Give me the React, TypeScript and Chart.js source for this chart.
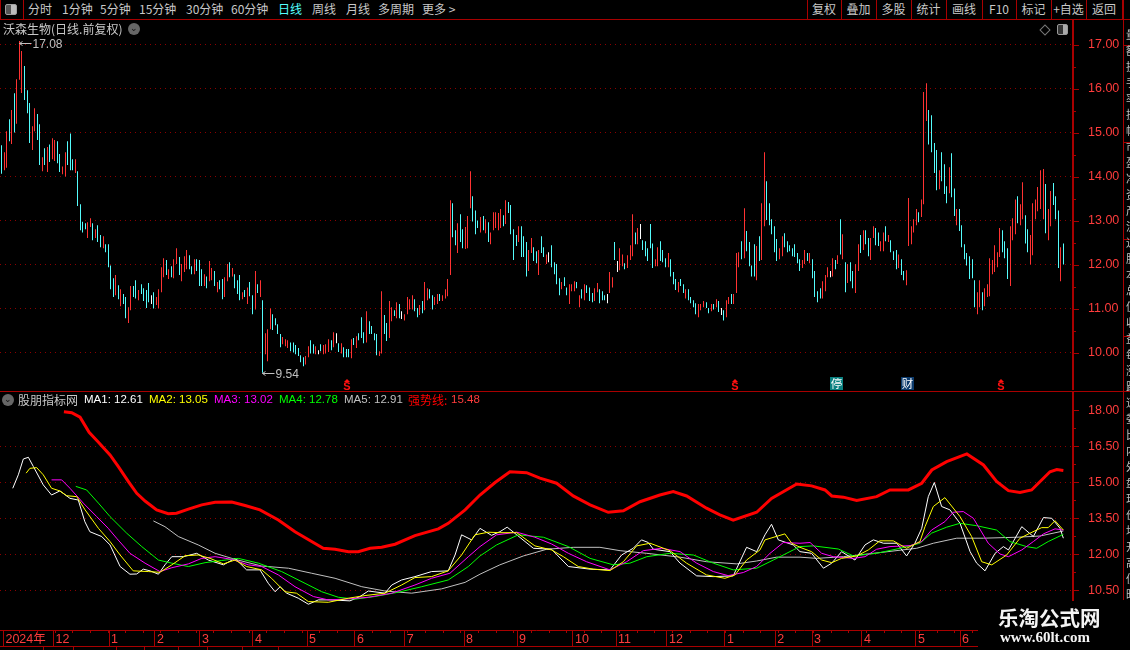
import React, { useEffect, useRef } from "react";
import { Chart, registerables } from "chart.js";

Chart.register(...registerables);

// ---------- candles: highs, lows, tones (r = up, c = down, w = flat) ----------
const highs = [
  14.71,14.55,15.03,15.30,15.51,15.89,16.21,17.08,16.85,16.51,
  15.96,15.67,15.14,15.55,15.42,15.19,14.44,14.64,14.67,14.73,
  14.87,14.83,14.80,14.51,14.23,14.55,14.80,14.98,14.39,14.39,
  14.12,13.37,12.97,12.94,12.96,13.05,12.94,12.80,12.89,12.67,
  12.64,12.46,12.46,11.98,11.69,11.76,11.53,11.44,11.33,11.26,
  11.03,11.51,11.51,11.64,11.42,11.55,11.46,11.42,11.58,11.30,
  11.37,11.26,11.44,11.94,12.14,12.10,11.89,11.96,12.12,12.37,
  12.17,12.01,12.19,12.33,12.21,11.96,12.12,12.12,12.10,11.89,
  11.78,11.73,12.08,11.92,11.85,11.60,11.64,11.67,11.71,12.01,
  12.05,11.92,11.78,11.64,11.76,11.37,11.42,11.48,11.60,11.30,
  11.85,11.55,11.64,11.19,10.44,10.53,11.00,10.87,10.78,10.64,
  10.42,10.35,10.30,10.28,10.23,10.23,10.17,10.10,
  9.94,9.89,9.92,10.14,10.28,10.19,10.14,10.05,10.19,10.17,
  10.19,10.30,10.28,10.46,10.44,10.21,10.21,10.12,10.08,10.08,
  10.30,10.33,10.37,10.44,10.80,10.46,10.94,10.71,10.60,10.44,
  10.42,10.03,11.39,10.85,10.67,11.17,11.03,10.96,11.14,11.10,
  10.94,10.87,11.26,11.21,11.30,11.21,11.01,11.08,11.17,11.60,
  11.46,11.44,11.30,11.26,11.33,11.33,11.30,11.44,11.67,13.46,
  13.39,12.78,12.94,13.14,12.80,12.85,13.10,14.12,13.55,13.23,
  13.00,13.08,13.10,13.03,12.96,12.73,13.19,13.19,13.17,13.26,
  13.12,13.46,13.42,13.35,12.80,12.67,12.87,12.87,12.64,12.51,
  12.33,12.60,12.39,12.30,12.33,12.64,12.39,12.23,12.28,12.44,
  12.05,12.01,11.69,11.60,11.71,11.48,11.55,11.55,11.62,11.60,
  11.30,11.44,11.55,11.53,11.48,11.35,11.46,11.58,11.44,
  11.39,11.30,11.33,11.83,11.71,12.51,12.08,12.37,12.23,12.03,
  12.21,12.44,13.14,12.73,12.83,12.92,12.55,12.53,12.37,12.92,
  12.48,12.12,12.39,12.53,12.33,12.14,12.26,12.12,11.83,11.67,
  11.60,11.67,11.55,11.44,11.44,11.26,11.19,11.12,11.10,11.10,
  11.17,11.14,11.01,11.10,11.10,11.21,11.17,11.01,10.96,11.19,
  11.26,11.33,11.33,12.26,12.28,12.53,13.28,12.76,12.51,11.98,
  12.46,12.42,12.64,13.39,14.55,13.89,13.39,13.03,12.87,12.58,
  12.37,12.64,12.71,12.53,12.44,12.37,12.46,12.26,12.12,12.10,
  12.33,12.26,12.26,12.12,11.85,11.39,11.46,11.62,11.76,11.94,
  11.85,12.14,12.10,12.21,13.03,12.69,12.05,12.01,12.05,11.85,
  12.01,12.46,12.67,12.78,12.78,12.60,12.60,12.87,12.83,12.73,
  12.53,12.73,12.87,12.67,12.55,12.30,12.33,12.23,
  12.12,11.85,11.87,13.51,12.87,13.03,13.26,13.19,13.48,15.92,
  16.12,15.51,15.39,14.76,14.60,14.14,14.55,14.28,13.78,14.21,
  14.53,13.73,13.26,13.26,12.89,12.46,12.26,12.19,12.12,11.64,
  11.37,11.64,11.37,11.46,11.55,12.14,12.10,12.44,12.28,12.83,
  12.78,12.53,12.37,12.87,13.05,13.48,13.55,13.37,13.87,13.12,
  12.80,12.67,13.39,13.48,13.76,14.14,14.17,13.83,13.26,13.67,
  13.85,13.55,13.23,12.39,12.48,
];
const lows = [
  14.06,14.14,14.20,14.80,14.74,15.00,15.20,16.20,15.90,15.74,
  15.44,14.76,14.60,15.03,14.83,14.26,14.12,14.26,14.10,14.33,
  14.39,14.35,14.30,14.10,14.05,14.00,14.26,14.14,14.14,14.08,
  13.33,12.78,12.73,12.80,12.60,12.85,12.55,12.60,12.51,12.39,
  12.37,12.28,11.94,11.44,11.26,11.30,11.21,11.05,11.10,10.78,
  10.67,10.96,11.26,11.23,11.19,11.33,11.17,11.01,11.14,11.10,
  11.00,11.08,11.00,11.37,11.71,11.76,11.67,11.71,11.69,12.01,
  11.76,11.62,11.83,11.89,11.89,11.78,11.78,11.85,11.51,11.51,
  11.51,11.46,11.62,11.64,11.51,11.37,11.44,11.21,11.26,11.62,
  11.71,11.73,11.46,11.33,11.19,11.21,11.26,11.10,11.28,10.87,
  10.98,11.35,11.26,9.54,9.96,9.80,10.53,10.51,10.62,10.42,
  10.12,10.19,10.14,10.10,10.03,10.00,9.96,9.92,
  9.78,9.69,9.73,9.89,9.98,9.98,9.96,9.96,10.03,9.96,
  9.98,10.01,10.05,10.12,10.21,10.01,9.98,9.89,9.89,9.89,
  9.87,10.17,10.10,10.28,10.33,10.21,10.23,10.42,10.42,10.28,
  9.94,9.92,9.98,10.42,10.26,10.33,10.71,10.83,10.78,10.78,
  10.76,10.73,10.87,10.98,10.98,10.94,10.80,10.85,10.89,10.96,
  11.19,11.23,10.98,11.08,11.10,11.17,11.17,11.23,11.28,11.76,
  12.62,12.44,12.26,12.51,12.37,12.35,12.37,13.28,12.98,12.69,
  12.83,12.73,12.78,12.71,12.51,12.46,12.78,12.83,12.78,12.83,
  12.87,12.92,13.17,12.69,12.10,12.42,12.51,12.17,12.17,11.73,
  11.85,12.26,12.08,12.03,11.76,12.26,12.17,12.01,12.05,11.94,
  11.78,11.55,11.30,11.44,11.51,11.30,11.10,11.39,11.39,11.46,
  11.03,11.23,11.19,11.35,11.17,11.14,11.17,11.37,11.12,
  11.19,11.19,11.12,11.35,11.48,12.10,11.83,11.87,11.96,11.89,
  11.92,12.10,12.19,12.46,12.46,12.58,12.33,12.19,12.08,12.37,
  11.92,11.96,11.96,12.08,12.05,11.94,11.94,11.73,11.55,11.42,
  11.37,11.51,11.35,11.23,11.19,11.12,11.03,10.87,10.80,10.96,
  11.03,11.01,10.89,10.94,10.98,11.03,10.92,10.85,10.73,10.80,
  11.10,11.10,11.10,11.35,11.94,12.12,12.14,12.30,11.96,11.73,
  11.73,11.64,12.08,12.10,12.87,13.01,12.89,12.69,12.28,12.08,
  12.12,12.19,12.39,12.28,12.30,12.19,12.17,12.03,11.85,11.92,
  12.01,12.08,12.03,11.69,11.26,11.14,11.23,11.23,11.39,11.71,
  11.71,11.73,11.89,12.01,12.23,12.12,11.37,11.58,11.62,11.46,
  11.35,11.85,12.26,12.33,12.46,12.19,12.10,12.60,12.44,12.42,
  12.30,12.30,12.53,12.51,12.28,12.10,11.89,11.92,
  11.76,11.64,11.53,12.42,12.46,12.73,12.89,12.96,13.08,13.37,
  15.26,14.73,14.55,14.08,13.69,13.71,13.89,13.60,13.39,13.62,
  13.53,13.10,12.89,12.76,12.39,12.12,11.98,11.67,11.69,11.03,
  10.87,11.03,10.96,11.05,11.26,11.28,11.78,11.83,11.94,12.17,
  12.28,12.14,11.67,11.51,12.55,12.69,12.94,12.89,13.03,12.48,
  12.28,12.00,12.21,13.03,13.21,13.26,13.03,12.71,12.55,12.87,
  13.35,13.03,11.92,11.62,12.00,
];
const toneRows = [
  "crrcrcrrrc","ccrrccrcrc","rrccrrcccr",
  "ccccrrcrcc","rccccrcrcc","rrccrccccw","crrrrcrcrr","crrrccrccc","rcrrcrccrr","crcccrcrcc","rcrcrrrccc","crrrcccc",
  "ccrrccrwcr","rrcrwcrccc","rcrcccrccc","crrccrrcrc","wrrrrccrcr","rccrrcrrrr","ccrccrrrcc","crcrcrrrrr","crccccrccc","rrccrccrwc","cccrccrrrc","rcrcccrrc",
  "ccwrrcwrrc","rrrcrwcccc","crrcccrccc","rccrccccrr","rccrcrcwcr","rcrrrcrccc","crcrrccccc","rrcccccccr","rcrccccrrr","wrcrcrcrcc","rrcrccrrcc","rrcrcccr",
  "ccrrrrrcrr","rccccrcccr","ccrccccccc","rrcrrrrrrr","cccrrrcrrc","crrrrrrcrr","cccrc",
];

// ---------- indicator lines: candle position + value ----------
const strongX = [24.7,27.8,31.1,34.7,38.4,43,46.3,50.3,53.6,56.9,61.5,66.1,69.4,74.1,79.4,84.7,91.3,96.6,102.5,109.8,116.4,123,127.6,132.3,137.6,141.5,146.2,150.8,156.1,164,173.3,177.2,183.9,189.8,195.8,201.7,208.3,213.6,220.2,226.8,233.5,240.7,246.7,253.3,261.2,266.5,271.8,279.7,285,290.3,299.6,305.5,315.5,321.4,326.7,329.4,334,339.3,347.2,352.5,359.8,365.1,369.1,375,383,389.6,394.8,399.5,404.1,408.7,416,418.7,421.3];
const strongY = [17.94,17.9,17.71,17.08,16.67,16.14,15.65,15.03,14.54,14.22,13.85,13.69,13.71,13.88,14.06,14.17,14.18,14.03,13.85,13.43,12.94,12.53,12.25,12.21,12.11,12.11,12.25,12.29,12.42,12.78,13.06,13.29,13.85,14.47,14.99,15.44,15.4,15.17,14.96,14.43,14.06,13.75,13.81,14.19,14.47,14.61,14.43,13.92,13.64,13.42,13.75,14.33,14.93,14.85,14.68,14.43,14.38,14.24,14.4,14.68,14.68,14.96,15.51,15.86,16.18,15.72,15.03,14.65,14.57,14.68,15.44,15.53,15.49];

const ma1X = [4.4,6.6,8.6,10.6,12.6,16.5,19.8,23.1,27.1,30.4,33,35,39.7,43,47,50.9,53.6,56.2,58.9,62.2,64.8,67.5,72.1,77.4,82,88,92.6,97.2,102.5,105.8,108.5,110.5,113.1,117.7,121.7,125.7,130.3,138.2,142.2,145.5,152.1,154.8,158.7,164,170.6,177.2,179.9,182.5,186.5,189.8,194.4,197.7,200.6,204.4,211,218.2,224.9,233.5,241.4,246,250.6,253.9,256.6,258.6,265.2,269.2,275.8,282.4,290.3,295.6,299.6,302.9,305.5,308.2,314.1,316.8,321.4,326.1,329.4,333.3,338.6,342.6,345.9,349.9,355.2,359.1,362.4,365.1,367.7,370.1,373,376.3,380.3,384.3,386.9,390.2,394.2,397.5,399.5,404.8,409.4,413.4,416.7,420,421.3];
const ma1Y = [14.75,15.31,15.97,16.04,15.65,14.89,14.47,14.64,14.33,14.26,13.36,12.94,12.74,12.39,11.49,11.17,11.18,11.38,11.31,11.17,11.56,11.9,11.9,12.04,11.76,11.56,11.83,11.35,11.35,10.79,10.44,10.65,10.38,10.17,9.92,10.1,10.1,10.06,10.24,10.47,10.38,10.72,10.93,11.07,11.28,11.31,11.97,12.81,12.6,13.08,12.79,12.94,13.13,12.81,12.25,12.21,11.49,11.38,11.35,11.97,12.25,12.6,12.49,12.21,12.11,11.63,11.1,11.07,11.1,12.29,12.11,12.81,13.25,12.6,12.39,12.11,12.04,11.42,11.63,12.11,11.76,12.39,12.6,12.46,12.46,11.93,12.46,13.08,14.4,14.99,13.99,13.85,13.29,12.11,11.63,11.31,12.04,12.32,12.18,13.15,12.74,13.53,13.5,13.08,12.67];

const ma2X = [9.7,11.2,13.9,16.5,19.8,23.1,25.8,29.8,33.1,38.4,43,47,52.2,58.2,62.8,67.5,72.8,78,82.7,88,92.6,97.2,103.2,107.1,112.4,117,121.7,129.6,137.6,144.2,152.1,158.7,164,170.6,177.2,182.5,187.8,193.1,197.7,204.4,211.6,218.2,222.9,228.8,234.8,241.4,246.7,252,257.3,265.2,271.8,279.7,287,291,295.6,300.9,302.9,310.8,313.5,316.8,321.4,325.4,329.4,333.3,339.3,343.9,348.5,353.8,359.1,364.4,366.4,369.7,374.3,380.3,384.9,388.9,392.9,398.8,404.1,408.1,412.7,415.3,418,421.3];
const ma2Y = [15.38,15.58,15.61,15.31,14.75,14.64,14.44,14.4,13.85,13.08,12.53,11.97,11.31,11.28,11.25,11.56,11.94,11.97,11.83,11.6,11.76,11.49,11.35,11,10.44,10.38,10.03,10,10.17,10.28,10.38,10.72,11.03,11.07,11.31,11.97,12.81,12.92,12.9,12.9,12.35,12.18,11.9,11.49,11.38,11.32,11.69,12.35,12.46,12.15,11.63,11.14,11,11.14,11.76,12.18,12.6,12.85,12.46,12.29,12.11,11.76,11.65,11.83,11.93,12.18,12.56,12.56,12.25,12.53,13.15,13.99,14.36,13.57,12.74,11.69,11.56,11.97,12.67,12.88,13.11,13.11,13.4,13.01];

const ma3X = [19.8,23.8,27.1,32.4,37.7,42.3,45.6,50.9,56.9,62.8,67.5,74.1,79.4,84.7,91.3,97.9,103.2,109.8,116.4,123.7,129.6,137.6,145.5,154.8,164,170.6,177.9,185.2,189.8,196.4,204.4,211.6,218.2,224.9,232.1,241.4,248,254.6,261.9,269.2,275.8,282.4,288.3,294.3,299.6,304.9,310.2,316.8,320.8,325.4,330,338,342.6,347.2,352.5,360.5,365.1,369,374.3,377.6,381.6,385.6,391.5,396.2,399.5,404.8,409.4,413.4,418,421.3];
const ma3Y = [15.1,15.1,14.75,14.13,13.57,13.08,12.67,12.04,11.63,11.28,11.44,11.6,11.83,11.9,11.79,11.56,11.49,11.14,10.65,10.24,10.1,10.14,10.21,10.38,10.72,11,11.21,11.9,12.32,12.81,12.92,12.71,12.43,12.04,11.69,11.35,11.69,12.15,12.25,12.11,11.63,11.28,11.11,11.24,11.49,12.04,12.49,12.46,12.49,12.04,11.9,11.83,11.9,12.21,12.32,12.36,12.53,13.01,13.36,13.75,13.78,13.5,12.46,12.01,11.9,12.18,12.53,12.85,13.06,13.01];

const ma4X = [29.4,33.7,38.4,43,49.6,55.6,62.2,67.5,74.1,80.7,87.3,93.9,101.9,111.1,120.4,127,133.6,140.2,148.1,157.4,166.7,177.2,185.2,189.8,196.4,205,215,224.9,233.5,242.7,249.3,256,265.2,274.5,282.4,290.3,299.6,306.2,314.1,316.8,322.1,332,338,347.2,356.5,364.4,369,375,380.3,386.9,394.8,400.1,406.7,410.7,415.3,421.3];
const ma4Y = [14.83,14.68,14.13,13.57,12.88,12.32,11.76,11.63,11.49,11.65,11.74,11.83,11.63,11.28,10.79,10.44,10.21,10.13,10.24,10.42,10.65,10.93,11.49,11.93,12.39,12.81,12.71,12.32,11.83,11.56,11.63,11.9,12.04,11.97,11.63,11.35,11.42,11.76,12.18,12.32,12.35,12.22,11.93,12.04,12.25,12.46,12.88,13.13,13.29,13.19,13.01,12.53,12.32,12.25,12.53,12.83];

const ma5X = [60.2,64.8,70.1,78,84.7,92.6,103.2,113.8,123,132.3,142.9,152.1,162.7,174.6,183.9,189.8,197.7,207,216.3,226.8,237.4,245.4,256,269.2,279.7,291.7,299.6,307.5,316.8,323.4,334,345.9,363.1,369.7,379,389.6,402.8,412,421.3];
const ma5Y = [13.39,13.15,12.74,12.39,12.04,11.79,11.51,11.42,11.21,11,10.65,10.47,10.38,10.56,10.83,11.17,11.56,11.93,12.21,12.29,12.29,12.15,12.04,11.88,11.69,11.6,11.72,11.88,11.88,11.83,11.9,12.04,12.25,12.46,12.67,12.67,12.71,12.76,12.97];

// ---------- axis ticks ----------
const priceTicks = [10,10.5,11,11.5,12,12.5,13,13.5,14,14.5,15,15.5,16,16.5,17];
const indicatorTicks = [10.5,11.25,12,12.75,13.5,14.25,15,15.75,16.5,17.25,18];
const monthPositions = [0.7,20.6,42.6,60.8,78.7,99.7,121.2,140.2,160,183.5,204.5,226.7,243.8,264,287,307,321.6,341.4,362.8,380.3];
const monthLabels = ["2024年","12","1","2","3","4","5","6","7","8","9","10","11","12","1","2","3","4","5","6"];

// ---------- chrome text ----------
const leftMenu: [string, number, string][] = [["分时",28,"#c8c8c8"],["1分钟",62,"#c8c8c8"],["5分钟",100,"#c8c8c8"],["15分钟",139,"#c8c8c8"],["30分钟",186,"#c8c8c8"],["60分钟",231,"#c8c8c8"],["日线",278,"#54ffff"],["周线",312,"#c8c8c8"],["月线",346,"#c8c8c8"],["多周期",378,"#c8c8c8"],["更多 >",422,"#c8c8c8"]];
const rightMenu = ["复权","叠加","多股","统计","画线","F10","标记","+自选","返回"];
const rightMenuEdges = [807,841,876,911,946,982,1016,1051,1086,1122];
const legendItems: [string, number, string][] = [["MA1: 12.61",84,"#ffffff"],["MA2: 13.05",149,"#ffff00"],["MA3: 13.02",214,"#ff00ff"],["MA4: 12.78",279,"#00ff00"],["MA5: 12.91",344,"#c0c0c0"]];
const footerEdges = [43,73,116,144,178,207,242,278];
const stripLines = [45,142,239,336,391,600];
const stripChars = "量额换手率振幅市盈净资产流通股本总值收益每涨跌速委比内外盘现价均开高低昨";

const CJK = '"Noto Sans CJK SC","Noto Sans",sans-serif';
const NUM = '"Liberation Sans","Noto Sans CJK SC",sans-serif';
const RED_LINE = "#a80000";
const RED_GRID = "#8c0000";
const RED_TEXT = "#ff3c3c";
const TONE: Record<string, string> = { r: "#ff3232", c: "#54fcfc", w: "#ffffff" };

const candleStep = 1061.6 / 419;
const indicatorStep = 2.52;

function fitY(scale: any) {
  scale.width = 58;
  scale.paddingTop = 0;
  scale.paddingBottom = 0;
}

const yAxisDecor = (labelled: (v: number) => boolean) => ({
  id: "yAxisDecor",
  afterDraw(chart: any) {
    const { ctx, scales: { y } } = chart;
    ctx.save();
    ctx.fillStyle = RED_LINE;
    ctx.fillRect(1072, 0, 2, chart.height);
    y.ticks.forEach((t: any) => {
      const py = Math.round(y.getPixelForValue(t.value));
      ctx.fillRect(1073, py, labelled(t.value) ? 6 : 3, 1);
    });
    ctx.restore();
  },
});

const snapBars = {
  id: "snapBars",
  beforeDatasetsDraw(chart: any) {
    chart.getDatasetMeta(0).data.forEach((el: any) => { el.x = Math.floor(el.x) + 0.5; });
  },
};

const priceMarks = {
  id: "priceMarks",
  afterDatasetsDraw(chart: any) {
    const { ctx, scales: { x, y } } = chart;
    ctx.save();
    ctx.fillStyle = "#c0c0c0";
    ctx.strokeStyle = "#c0c0c0";
    ctx.font = `12px ${NUM}`;
    ctx.textBaseline = "middle";
    const note = (i: number, v: number, txt: string, dy: number) => {
      const px = Math.floor(x.getPixelForValue(i)) + 0.5;
      const py = Math.round(y.getPixelForValue(v)) + 0.5 + dy;
      ctx.beginPath();
      ctx.moveTo(px + 3, py - 2);
      ctx.lineTo(px, py);
      ctx.lineTo(px + 3, py + 2);
      ctx.moveTo(px, py);
      ctx.lineTo(px + 12, py);
      ctx.stroke();
      ctx.fillText(txt, px + 13, py + 1);
    };
    note(7, highs[7], "17.08", 2);
    note(103, lows[103], "9.54", 0);
    const sY = 350;
    [136.3, 289.4, 394.4].forEach((i) => {
      const px = Math.round(x.getPixelForValue(i));
      ctx.fillStyle = "#ff1010";
      ctx.beginPath();
      ctx.moveTo(px, sY + 9);
      ctx.lineTo(px + 3, sY + 12);
      ctx.lineTo(px - 3, sY + 12);
      ctx.closePath();
      ctx.fill();
      ctx.font = `bold 11px ${NUM}`;
      ctx.textAlign = "center";
      ctx.textBaseline = "middle";
      ctx.fillText("S", px, sY + 17);
    });
    const badge = (i: number, txt: string, bg: string) => {
      const px = Math.round(x.getPixelForValue(i));
      ctx.fillStyle = bg;
      ctx.fillRect(px - 6, 357, 13, 13);
      ctx.fillStyle = "#ffffff";
      ctx.font = `11.5px ${CJK}`;
      ctx.textAlign = "center";
      ctx.textBaseline = "middle";
      ctx.fillText(txt, px + 0.5, 363.5);
    };
    badge(329.3, "停", "#0a8080");
    badge(357.3, "财", "#0b3a6c");
    ctx.restore();
  },
};

const bandTicks = {
  id: "bandTicks",
  afterDraw(chart: any) {
    const { ctx, scales: { x } } = chart;
    ctx.save();
    ctx.fillStyle = RED_LINE;
    for (let i = 7; i < 424; i += 7) {
      ctx.fillRect(Math.round(x.getPixelForValue(i)), chart.chartArea.bottom, 1, 3);
    }
    ctx.restore();
  },
};

export default function App() {
  const topRef = useRef<HTMLCanvasElement>(null);
  const botRef = useRef<HTMLCanvasElement>(null);

  useEffect(() => {
    document.body.style.margin = "0";
    document.body.style.background = "#000";
    const tones = toneRows.join("");
    const xMin = -1.67 / candleStep;
    const topChart = new Chart(topRef.current as any, {
      type: "bar",
      data: {
        datasets: [{
          data: highs.map((h, i) => ({ x: i, y: [lows[i], h] })) as any,
          backgroundColor: highs.map((_, i) => TONE[tones[i]] || TONE.c),
          barThickness: 1,
          borderWidth: 0,
          inflateAmount: 0,
          grouped: false,
        } as any],
      },
      options: {
        animation: false,
        responsive: false,
        devicePixelRatio: 1,
        maintainAspectRatio: false,
        layout: { padding: 0 },
        plugins: { legend: { display: false }, tooltip: { enabled: false } },
        scales: {
          x: { type: "linear", display: false, offset: false, min: xMin, max: xMin + 1072 / candleStep },
          y: {
            position: "right",
            min: 9.148,
            max: 17.557,
            afterFit: fitY,
            afterBuildTicks: (s: any) => { s.ticks = priceTicks.map((value) => ({ value })); },
            border: { display: false, dash: [1, 4] },
            grid: {
              drawTicks: false,
              color: (c: any) => (Number.isInteger(c.tick?.value) ? RED_GRID : "rgba(0,0,0,0)"),
            },
            ticks: {
              padding: 16,
              color: RED_TEXT,
              font: { family: NUM, size: 12.5 },
              callback: (v: any) => (Number.isInteger(v) ? Number(v).toFixed(2) : ""),
            },
          },
        },
      } as any,
      plugins: [snapBars, priceMarks, yAxisDecor((v) => Number.isInteger(v))],
    });

    const line = (xs: number[], ys: number[], color: string, width = 1) => ({
      data: xs.map((x, i) => ({ x, y: ys[i] })),
      borderColor: color,
      borderWidth: width,
      pointRadius: 0,
      tension: 0,
    });
    const bMin = -1.67 / indicatorStep;
    const botChart = new Chart(botRef.current as any, {
      type: "line",
      data: {
        datasets: [
          line(ma2X, ma2Y, "#ffff00"),
          line(ma3X, ma3Y, "#ff00ff"),
          line(ma4X, ma4Y, "#00ff00"),
          line(ma1X, ma1Y, "#ffffff"),
          line(ma5X, ma5Y, "#c0c0c0"),
          line(strongX, strongY, "#ff0000", 3),
        ] as any,
      },
      options: {
        animation: false,
        responsive: false,
        devicePixelRatio: 1,
        maintainAspectRatio: false,
        layout: { padding: 0 },
        plugins: { legend: { display: false }, tooltip: { enabled: false } },
        scales: {
          x: {
            type: "linear",
            min: bMin,
            max: bMin + 1072 / indicatorStep,
            afterFit: (s: any) => { s.height = 20; s.paddingLeft = 0; s.paddingRight = 0; },
            afterBuildTicks: (s: any) => { s.ticks = monthPositions.map((value) => ({ value })); },
            border: { color: RED_LINE, width: 1 },
            grid: { drawOnChartArea: false, drawTicks: true, tickLength: 16, tickColor: RED_LINE, tickWidth: 1 },
            ticks: {
              autoSkip: false,
              maxRotation: 0,
              minRotation: 0,
              align: "start",
              padding: -14,
              labelOffset: 2,
              color: RED_TEXT,
              font: { family: NUM, size: 12.5 },
              callback: (v: any) => monthLabels[monthPositions.indexOf(v)] ?? "",
            },
          },
          y: {
            position: "right",
            min: 8.846,
            max: 18.76,
            afterFit: fitY,
            afterBuildTicks: (s: any) => { s.ticks = indicatorTicks.map((value) => ({ value })); },
            border: { display: false, dash: [1, 4] },
            grid: {
              drawTicks: false,
              color: (c: any) => {
                const v = c.tick?.value;
                return Number.isInteger(v / 1.5) && v < 18 ? RED_GRID : "rgba(0,0,0,0)";
              },
            },
            ticks: {
              padding: 16,
              color: RED_TEXT,
              font: { family: NUM, size: 12.5 },
              callback: (v: any) => (Number.isInteger(v / 1.5) ? Number(v).toFixed(2) : ""),
            },
          },
        },
      } as any,
      plugins: [bandTicks, yAxisDecor((v) => Number.isInteger(v / 1.5))],
    });
    return () => {
      topChart.destroy();
      botChart.destroy();
    };
  }, []);

  const abs = (left: number, top: number, extra: any = {}): any => ({
    position: "absolute", left, top, whiteSpace: "nowrap", lineHeight: "14px", font: `12px ${CJK}`, color: "#c8c8c8", ...extra,
  });
  const rect = (left: number, top: number, width: number, height: number, bg = RED_LINE): any => ({
    position: "absolute", left, top, width, height, background: bg,
  });

  return (
    <div style={{ position: "fixed", left: 0, top: 0, width: 1130, height: 650, background: "#000", overflow: "hidden" }}>
      <canvas ref={topRef} width={1130} height={370} style={{ position: "absolute", left: 0, top: 20, display: "block" }} />
      <canvas ref={botRef} width={1130} height={258} style={{ position: "absolute", left: 0, top: 392, display: "block" }} />

      {/* top bar */}
      <div style={rect(0, 19, 1130, 1)} />
      <div style={rect(0, 0, 1, 19)} />
      <div style={rect(23, 0, 1, 19)} />
      <div style={{ position: "absolute", left: 5, top: 4, width: 10, height: 9, border: "1px solid #a0a0a0", borderRadius: 2, background: "linear-gradient(90deg,#555 50%,#bbb 50%)" }} />
      {leftMenu.map(([t, x, c]) => <span key={t} style={abs(x, 0, { color: c })}>{t}</span>)}
      {rightMenuEdges.map((x) => <div key={x} style={rect(x, 0, 1, 19)} />)}
      {rightMenu.map((t, i) => (
        <span key={t} style={abs(rightMenuEdges[i], 0, { width: rightMenuEdges[i + 1] - rightMenuEdges[i], textAlign: "center" })}>{t}</span>
      ))}

      {/* title row */}
      <span style={abs(3, 20)}>沃森生物(日线.前复权)</span>
      <div style={{ position: "absolute", left: 128, top: 23, width: 12, height: 12, borderRadius: 6, background: "#666", color: "#111", font: `9px ${NUM}`, lineHeight: "11px", textAlign: "center" }}>⌄</div>
      <div style={{ position: "absolute", left: 1041, top: 26, width: 6, height: 6, border: "1px solid #777", transform: "rotate(45deg)" }} />
      <div style={{ position: "absolute", left: 1057, top: 24, width: 9, height: 9, border: "1px solid #999", borderRadius: 2, background: "linear-gradient(90deg,#333 50%,#aaa 50%)" }} />

      {/* right strip */}
      <div style={rect(1123, 0, 1, 600)} />
      {stripLines.map((y) => <div key={y} style={rect(1123, y, 7, 1)} />)}
      <div style={{ position: "absolute", left: 1126, top: 26, width: 4, height: 574, overflow: "hidden" }}>
        <div style={{ width: 14, font: `11px ${CJK}`, lineHeight: "16px", color: "#c0c0c0", wordBreak: "break-all" }}>{stripChars}</div>
      </div>

      {/* panel divider + legend */}
      <div style={rect(0, 391, 1130, 1)} />
      <div style={{ position: "absolute", left: 2, top: 394, width: 12, height: 12, borderRadius: 6, background: "#666", color: "#111", font: `9px ${NUM}`, lineHeight: "11px", textAlign: "center" }}>⌄</div>
      <span style={abs(18, 391)}>股朋指标网</span>
      {legendItems.map(([t, x, c]) => <span key={t} style={abs(x, 393, { color: c, font: `11.5px ${NUM}` })}>{t}</span>)}
      <span style={abs(408, 391, { color: "#ff0000" })}>强势线:</span>
      <span style={abs(451, 393, { color: RED_TEXT, font: `11.5px ${NUM}` })}>15.48</span>

      {/* footer */}
      <div style={rect(0, 646, 978, 1)} />
      {footerEdges.map((x) => <div key={x} style={rect(x, 647, 1, 3)} />)}

      {/* watermark */}
      <div style={{ position: "absolute", left: 978, top: 601, width: 145, height: 49, background: "#000" }} />
      <div style={rect(1123, 600, 7, 50, "#000")} />
      <span style={{ position: "absolute", left: 998, top: 604, whiteSpace: "nowrap", font: `bold 20.5px ${CJK}`, color: "#f4f4f4", lineHeight: "26px" }}>乐淘公式网</span>
      <span style={{ position: "absolute", left: 1000, top: 629, whiteSpace: "nowrap", font: `bold 15px "Liberation Serif",serif`, color: "#f4f4f4", lineHeight: "16px" }}>www.60lt.com</span>
    </div>
  );
}
